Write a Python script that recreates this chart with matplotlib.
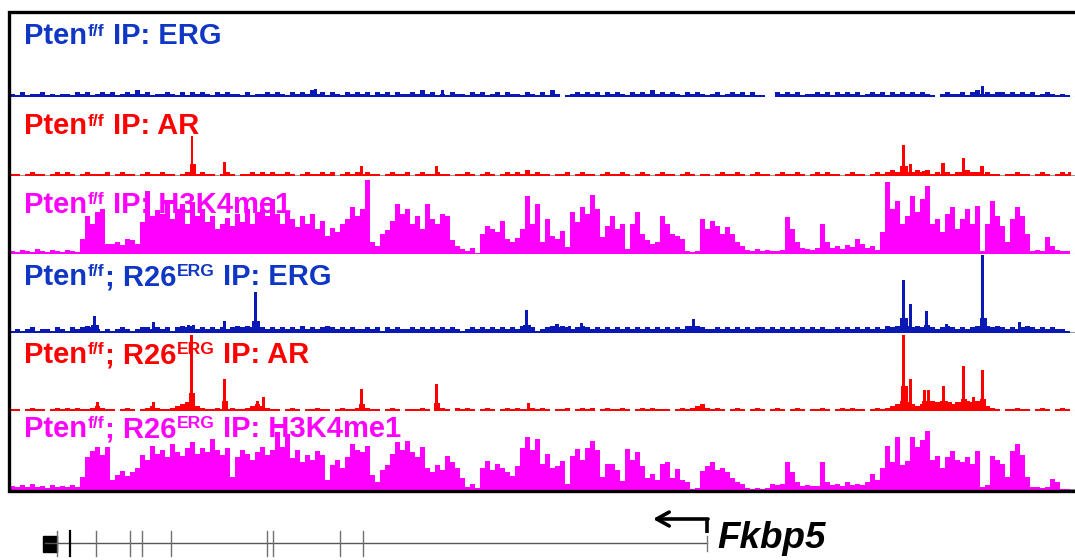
import numpy as np
import matplotlib
matplotlib.use("Agg")
import matplotlib.pyplot as plt

# figure is laid out in pixel units (1075 x 560), x of every track = pixel column
W, H = 1075, 560
BIN = 5          # width of one coverage bin
X0 = 10          # first bin edge
TRACK_H = 78.5
BG_UNIT = 1.7    # one background digit = 1.7 px of track height

# ---- data ---------------------------------------------------------------
track_ip = ["ERG", "AR", "H3K4me1", "ERG", "AR", "H3K4me1"]
track_r26 = [False, False, False, True, True, True]
signal_colors = ["#0a18b4", "#ff0000", "#ff00ff", "#0a18b4", "#ff0000", "#ff00ff"]
label_colors = ["#1036c4", "#ff0000", "#ff00ff", "#1036c4", "#ff0000", "#ff00ff"]
label_base_y = [44, 134, 213, 285, 363, 437]

# low background coverage, one digit per 5 px bin
erg1_bg = ("2131223121" "2213231232" "3123242312" "2321313232" "1323221312"
           "2323213232" "4231321323" "2313231322" "3242312132" "2132312313"
           "2213213142" "0123232313" "2321323242" "3232132321" "2312323131"
           "1003232312" "2323132323" "1232313232" "3232102322" "3134232332"
           "3232312321" "21")
ar1_bg = ("1101211012" "1210121112" "0121101211" "2110121121" "1012101121"
          "2121121012" "1121201212" "1211012112" "0121121101" "1210121012"
          "1213121101" "1201211012" "1121012101" "2110121011" "0121121012"
          "1101211210" "1212110121" "1012123232" "2323121212" "2322121101"
          "1211012101" "21")
erg2_bg = ("1212312213" "2132343212" "1232123323" "2313434232" "3232343432"
           "3232323242" "3234323232" "2323132322" "3232323232" "1232323232"
           "3242312343" "4323432323" "2323232323" "2323243432" "2323232323"
           "3232323232" "3232232323" "2323243434" "3434323432" "3234343432"
           "3234323232" "21")
ar2_bg = ("1101211012" "1212112321" "1012101232" "1123454321" "1211211234"
          "3211012101" "1211012112" "1211012101" "1121012102" "1210121012"
          "1211212101" "1201212012" "1121012121" "1101212342" "1210121012"
          "1012101210" "1121012121" "1012123465" "4345656545" "5656532101"
          "1211012101" "21")

# H3K4me1 coverage, height (px) per 5 px bin
h3k4_pten = [3, 2, 4, 3, 2, 5, 3, 2, 4, 3,
             2, 4, 3, 2, 15, 38, 30, 42, 45, 10,
             10, 12, 9, 15, 14, 10, 32, 63, 38, 44,
             40, 52, 35, 45, 50, 30, 52, 38, 45, 32,
             38, 25, 30, 36, 28, 40, 32, 45, 30, 42,
             45, 38, 55, 40, 30, 43, 35, 27, 38, 30,
             40, 25, 33, 18, 26, 22, 30, 35, 47, 38,
             45, 74, 12, 8, 20, 24, 33, 50, 40, 45,
             30, 38, 25, 50, 35, 30, 40, 38, 14, 8,
             5, 3, 6, 1, 20, 28, 25, 22, 33, 15,
             12, 16, 25, 58, 30, 50, 12, 35, 18, 15,
             23, 7, 42, 32, 47, 40, 59, 45, 17, 28,
             38, 25, 30, 5, 30, 42, 20, 14, 10, 12,
             38, 30, 20, 18, 15, 3, 2, 3, 35, 25,
             33, 28, 20, 27, 20, 12, 8, 4, 3, 5,
             3, 4, 3, 3, 4, 37, 25, 12, 6, 5,
             4, 6, 30, 12, 6, 8, 5, 9, 7, 15,
             10, 6, 8, 4, 22, 72, 45, 53, 30, 38,
             58, 42, 55, 68, 30, 35, 22, 40, 47, 25,
             35, 45, 30, 48, 3, 30, 53, 38, 28, 12,
             35, 47, 38, 20, 3, 4, 3, 17, 8, 4,
             3, 3]
h3k4_r26 = [4, 3, 5, 3, 6, 3, 4, 2, 5, 3,
            4, 3, 5, 3, 13, 33, 39, 43, 35, 43,
            10, 15, 19, 14, 18, 22, 35, 30, 44, 36,
            40, 33, 46, 38, 34, 42, 48, 36, 42, 38,
            51, 40, 35, 42, 13, 33, 40, 36, 30, 38,
            43, 35, 40, 58, 43, 56, 32, 40, 28, 35,
            30, 39, 35, 10, 25, 30, 22, 33, 46, 40,
            38, 44, 15, 8, 20, 25, 36, 48, 40, 49,
            38, 33, 43, 22, 18, 25, 20, 34, 28, 22,
            12, 3, 6, 2, 22, 29, 20, 26, 22, 18,
            14, 24, 42, 53, 40, 51, 26, 36, 22, 24,
            29, 6, 34, 41, 30, 42, 49, 40, 13, 26,
            26, 20, 9, 41, 30, 38, 24, 12, 16, 10,
            26, 28, 12, 21, 10, 8, 1, 2, 19, 24,
            28, 20, 22, 18, 12, 8, 6, 2, 1, 2,
            1, 2, 6, 5, 6, 28, 18, 8, 4, 5,
            4, 4, 28, 8, 5, 6, 4, 8, 5, 6,
            5, 8, 16, 10, 22, 44, 28, 53, 25, 29,
            53, 43, 50, 59, 30, 34, 22, 33, 39, 30,
            28, 33, 26, 39, 3, 5, 34, 30, 26, 13,
            39, 46, 35, 13, 3, 3, 2, 3, 11, 8,
            1, 1]

# narrow peaks: (position, height px, width px)
erg1_peaks = [(315, 8, 3), (442, 7, 3), (982, 11, 3)]
ar1_peaks = [(192, 40, 2.5), (193, 12, 6), (224, 14, 3), (361, 10, 3), (436, 10, 3),
             (527, 5, 4), (903, 31, 3), (904, 10, 8), (910, 12, 3), (924, 5, 5),
             (943, 13, 4), (963, 18, 3), (982, 10, 4), (1069, 4, 3)]
erg2_peaks = [(94, 17, 3), (95, 8, 8), (153, 11, 3), (188, 8, 3), (193, 8, 3),
              (224, 12, 3), (255, 41, 3), (256, 12, 8), (303, 7, 3), (526, 23, 3),
              (527, 8, 8), (557, 9, 4), (569, 7, 3), (581, 10, 3), (693, 14, 3),
              (694, 7, 10), (903, 52, 3), (904, 15, 8), (910, 29, 3), (926, 22, 3),
              (927, 8, 6), (946, 9, 3), (982, 77, 3), (983, 15, 7), (1019, 11, 3)]
ar2_peaks = [(97, 9, 3), (153, 9, 3), (189, 9, 4), (191.5, 76, 2.5), (192, 18, 6),
             (224.5, 32, 3), (225, 10, 6), (257, 10, 3), (263, 14, 3), (361, 22, 3),
             (362, 7, 6), (436, 27, 3), (437, 8, 6), (528, 8, 3), (903, 76, 3),
             (904, 25, 7), (910, 32, 3), (924, 21, 3), (928, 21, 3), (926, 10, 8),
             (943, 25, 3), (944, 10, 8), (950, 9, 3), (963, 45, 3), (964, 12, 6),
             (973, 14, 3), (982, 41, 3), (983, 12, 6)]

track_bins = [erg1_bg, ar1_bg, h3k4_pten, erg2_bg, ar2_bg, h3k4_r26]
track_peaks = [erg1_peaks, ar1_peaks, [], erg2_peaks, ar2_peaks, []]

# gene model (Fkbp5, minus strand)
gene_start, gene_end = 45, 707
exon_x = [57, 70, 96, 130, 142, 171, 267, 273, 340, 363]
utr_box = (43, 57)
gene_name = "Fkbp5"

# ---- drawing ------------------------------------------------------------
plt.rcParams["font.family"] = ["Liberation Sans", "DejaVu Sans"]
fig = plt.figure(figsize=(W / 100, H / 100), dpi=100)
renderer = fig.canvas.get_renderer()

for i in range(6):
    base = 97 + TRACK_H * i
    ax = fig.add_axes([X0 / W, 1 - base / H, (W - X0) / W, TRACK_H / H])
    ax.set_xlim(X0, W)
    ax.set_ylim(0, TRACK_H)
    ax.axis("off")
    ax.axhline(0.4, color="#9a9a9a", lw=0.8, zorder=1)
    bins = track_bins[i]
    if isinstance(bins, str):
        vals = np.array([int(c) for c in bins], dtype=float) * BG_UNIT
    else:
        vals = np.array(bins, dtype=float)
    edges = X0 + BIN * np.arange(len(vals) + 1)
    ax.fill_between(edges, np.append(vals, vals[-1]), step="post",
                    color=signal_colors[i], lw=0, zorder=2)
    if track_peaks[i]:
        px, ph, pw = zip(*track_peaks[i])
        ax.bar(px, ph, width=pw, color=signal_colors[i], lw=0, zorder=3)

# track labels with superscripts
FS = 21
EM = FS * 100 / 72


def draw_label(y, parts, color):
    x = 24
    for text, sup in parts:
        if text.startswith(" "):
            x += 0.278 * EM
            text = text.lstrip()
        t = fig.text(x / W, 1 - (y - (8.5 if sup else 0)) / H, text,
                     fontsize=FS * 0.6 if sup else FS, fontweight="bold",
                     color=color, ha="left", va="baseline")
        x += t.get_window_extent(renderer).width + (1 if not sup else 0)


for i in range(6):
    parts = [("Pten", False), ("f/f", True)]
    if track_r26[i]:
        parts += [("; R26", False), ("ERG", True)]
    parts += [(" IP: " + track_ip[i], False)]
    draw_label(label_base_y[i], parts, label_colors[i])

# overlay in pixel coordinates: frame and gene model
ov = fig.add_axes([0, 0, 1, 1], zorder=5)
ov.set_xlim(0, W)
ov.set_ylim(H, 0)
ov.axis("off")
ov.patch.set_alpha(0)
ov.plot([W + 5, 8.5, 8.5, W + 5], [11.5, 11.5, 491, 491], color="k", lw=2.4,
        solid_joinstyle="miter", solid_capstyle="butt", clip_on=False)

ov.plot([gene_start, gene_end], [543, 543], color="#555555", lw=1.0)
ov.add_patch(plt.Rectangle((utr_box[0], 536), utr_box[1] - utr_box[0], 16, color="k"))
for k, ex in enumerate(exon_x):
    ov.plot([ex, ex], [531, 556], color="k" if k == 1 else "#6f6f6f",
            lw=1.6 if k == 1 else 1.0)
ov.plot([gene_end, gene_end], [536, 551], color="#777777", lw=1.0)

ov.plot([gene_end, gene_end], [533, 519], color="k", lw=2.6, solid_capstyle="butt")
ov.annotate("", xy=(653, 519), xytext=(gene_end + 1, 519),
            arrowprops=dict(arrowstyle="->,head_length=0.9,head_width=0.5",
                            lw=2.6, color="k", shrinkA=0, shrinkB=0))
ov.text(717, 548, gene_name, fontsize=26.5, fontweight="bold", fontstyle="italic",
        ha="left", va="baseline", color="k")

fig.savefig("out.png", dpi=100)
